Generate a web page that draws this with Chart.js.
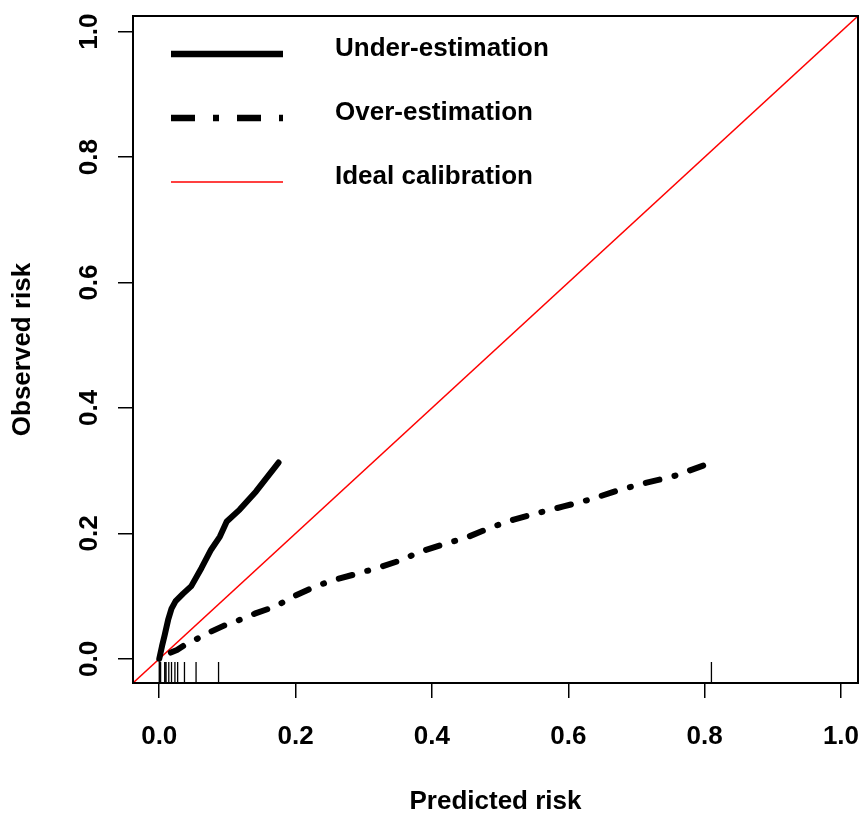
<!DOCTYPE html>
<html>
<head>
<meta charset="utf-8">
<script src="https://cdn.jsdelivr.net/npm/chart.js@4.4.1/dist/chart.umd.min.js"></script>
<style>
  html, body { margin: 0; padding: 0; background: #ffffff; }
  canvas { display: block; }
</style>
</head>
<body>
<canvas id="c" width="865" height="815"></canvas>
<script>
// ---- data ----
const tickValues = [0.0, 0.2, 0.4, 0.6, 0.8, 1.0];

const underX = [0.000, 0.004, 0.008, 0.013, 0.018, 0.024, 0.035, 0.047, 0.062, 0.076, 0.089, 0.099, 0.118, 0.142, 0.175];
const underY = [0.000, 0.020, 0.038, 0.062, 0.080, 0.092, 0.104, 0.116, 0.145, 0.174, 0.195, 0.219, 0.238, 0.267, 0.313];

const overX = [0.017, 0.026, 0.040, 0.054, 0.075, 0.095, 0.113, 0.140, 0.171, 0.198, 0.228, 0.254, 0.291, 0.323, 0.354, 0.381, 0.418, 0.452, 0.488, 0.520, 0.557, 0.593, 0.635, 0.674, 0.715, 0.754, 0.800];
const overY = [0.010, 0.014, 0.024, 0.031, 0.043, 0.053, 0.060, 0.072, 0.084, 0.100, 0.115, 0.125, 0.136, 0.146, 0.157, 0.170, 0.183, 0.194, 0.210, 0.222, 0.233, 0.243, 0.255, 0.269, 0.281, 0.291, 0.309];

const idealX = [-0.0385, 1.025];
const idealY = [-0.0385, 1.025];

const rugX = [0.000, 0.001, 0.002, 0.008, 0.010, 0.014, 0.018, 0.023, 0.027, 0.037, 0.054, 0.087, 0.810];
const rugBottom = -0.0385;
const rugTop = -0.005;

const legendLabels = ['Under-estimation', 'Over-estimation', 'Ideal calibration'];

const axisMin = -0.0385;
const axisMax = 1.025;

// ---- build ----
const zip = (xs, ys) => xs.map((x, i) => ({ x: x, y: ys[i] }));
const rugData = [];
rugX.forEach(x => {
  rugData.push({ x: x, y: rugBottom });
  rugData.push({ x: x, y: rugTop });
  rugData.push({ x: x, y: null });
});

const FONT = "'Liberation Sans', Arial, Helvetica, sans-serif";
Chart.defaults.font.family = FONT;
Chart.defaults.color = '#000000';

const framePlugin = {
  id: 'frame',
  afterDraw(chart) {
    const { ctx, chartArea: a } = chart;
    ctx.save();
    ctx.strokeStyle = '#000000';
    ctx.lineWidth = 2;
    ctx.setLineDash([]);
    ctx.strokeRect(a.left, a.top, a.right - a.left, a.bottom - a.top);

    const ys = chart.scales.y;
    ctx.fillStyle = '#000000';
    ctx.font = 'bold 26px ' + FONT;
    ctx.textAlign = 'center';
    ctx.textBaseline = 'alphabetic';
    ys.ticks.forEach(t => {
      const py = ys.getPixelForValue(t.value);
      ctx.save();
      ctx.translate(97, py);
      ctx.rotate(-Math.PI / 2);
      ctx.fillText(t.value.toFixed(1), 0, 0);
      ctx.restore();
    });

    const lx0 = 171, lx1 = 283, tx = 335;
    const rows = [54, 118, 182];
    const styles = [
      { color: '#000000', width: 6.5, dash: [] },
      { color: '#000000', width: 6.5, dash: [24, 18, 6, 18] },
      { color: '#ff0000', width: 1.5, dash: [] }
    ];
    rows.forEach((ry, i) => {
      const s = styles[i];
      ctx.beginPath();
      ctx.strokeStyle = s.color;
      ctx.lineWidth = s.width;
      ctx.lineCap = 'butt';
      ctx.setLineDash(s.dash);
      ctx.moveTo(lx0, ry);
      ctx.lineTo(lx1, ry);
      ctx.stroke();
      ctx.setLineDash([]);
      ctx.textAlign = 'left';
      ctx.fillStyle = '#000000';
      ctx.fillText(legendLabels[i], tx, ry + 2);
    });
    ctx.restore();
  }
};

const tickFont = { family: FONT, size: 26, weight: 'bold', lineHeight: 1 };

new Chart(document.getElementById('c'), {
  type: 'scatter',
  data: {
    datasets: [
      {
        label: legendLabels[0],
        data: zip(underX, underY),
        showLine: true,
        borderColor: '#000000',
        borderWidth: 6,
        borderCapStyle: 'round',
        borderJoinStyle: 'round',
        pointRadius: 0,
        tension: 0
      },
      {
        label: legendLabels[1],
        data: zip(overX, overY),
        showLine: true,
        borderColor: '#000000',
        borderWidth: 6,
        borderDash: [14, 15.5, 1, 15.5],
        borderCapStyle: 'round',
        borderJoinStyle: 'round',
        pointRadius: 0,
        tension: 0
      },
      {
        label: legendLabels[2],
        data: zip(idealX, idealY),
        showLine: true,
        borderColor: '#ff0000',
        borderWidth: 1.5,
        pointRadius: 0,
        tension: 0
      },
      {
        label: 'rug',
        data: rugData,
        showLine: true,
        spanGaps: false,
        borderColor: '#000000',
        borderWidth: 1.3,
        pointRadius: 0,
        tension: 0
      }
    ]
  },
  options: {
    responsive: false,
    devicePixelRatio: 1,
    animation: false,
    layout: { padding: { left: 0, top: 16, right: 7, bottom: 0 } },
    plugins: {
      legend: { display: false },
      tooltip: { enabled: false }
    },
    scales: {
      x: {
        type: 'linear',
        min: axisMin,
        max: axisMax,
        afterBuildTicks: s => { s.ticks = tickValues.map(v => ({ value: v })); },
        afterFit: s => { s.height = 132; s.paddingLeft = 0; s.paddingRight = 0; },
        border: { display: false },
        grid: { drawOnChartArea: false, drawTicks: true, tickLength: 15, color: '#000000', lineWidth: 1.5 },
        ticks: {
          font: tickFont, color: '#000000', padding: 26,
          maxRotation: 0, minRotation: 0, autoSkip: false, includeBounds: false,
          callback: v => Number(v).toFixed(1)
        },
        title: {
          display: true, text: 'Predicted risk', color: '#000000',
          font: tickFont, padding: { top: 0, bottom: 0 }
        }
      },
      y: {
        type: 'linear',
        min: axisMin,
        max: axisMax,
        afterBuildTicks: s => { s.ticks = tickValues.map(v => ({ value: v })); },
        afterFit: s => { s.width = 133; s.paddingTop = 0; s.paddingBottom = 0; },
        border: { display: false },
        grid: { drawOnChartArea: false, drawTicks: true, tickLength: 15, color: '#000000', lineWidth: 1.5 },
        ticks: {
          font: tickFont, color: 'rgba(0,0,0,0)', padding: 4, autoSkip: false, includeBounds: false,
          callback: v => Number(v).toFixed(1)
        },
        title: {
          display: true, text: 'Observed risk', color: '#000000',
          font: tickFont, padding: { top: 10, bottom: 0 }
        }
      }
    }
  },
  plugins: [framePlugin]
});
</script>
</body>
</html>
